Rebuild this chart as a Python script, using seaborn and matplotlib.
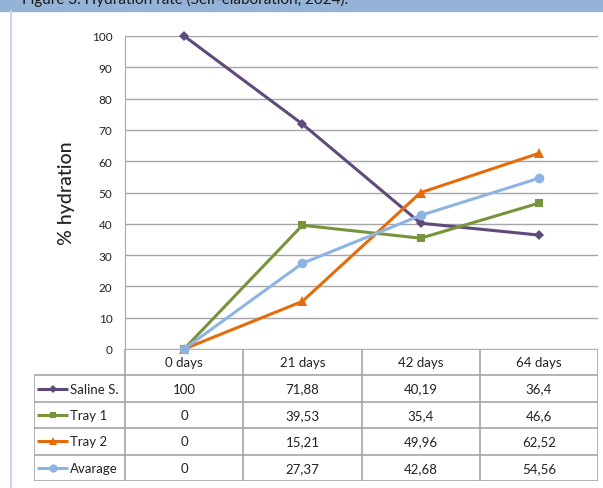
import pandas as pd
import numpy as np
import matplotlib.pyplot as plt
import seaborn as sns
from matplotlib.patches import Rectangle

# data
days = ['0 days', '21 days', '42 days', '64 days']
series = ['Saline S.', 'Tray 1', 'Tray 2', 'Avarage']
saline = [100, 71.88, 40.19, 36.4]
tray1 = [0, 39.53, 35.4, 46.6]
tray2 = [0, 15.21, 49.96, 62.52]
avarage = [0, 27.37, 42.68, 54.56]
yticks = [0, 10, 20, 30, 40, 50, 60, 70, 80, 90, 100]

colors = ['#604A7B', '#77933C', '#E46C0A', '#8EB4E3']
markers = ['D', 's', '^', 'o']
msizes = [5, 6, 7, 7]

df = pd.DataFrame({'day': np.tile(np.arange(len(days)), 4),
                   'value': saline + tray1 + tray2 + avarage,
                   'series': np.repeat(series, len(days))})

sns.set_style('white')
plt.rcParams['font.family'] = ['Lato', 'DejaVu Sans']

W, H = 603, 489
fig = plt.figure(figsize=(W / 100, H / 100), dpi=100)

def px(x0, y0, x1, y1):
    return [x0 / W, 1 - y1 / H, (x1 - x0) / W, (y1 - y0) / H]

# header bar and left frame line
fig.patches.append(Rectangle((0, 1 - 12 / H), 1, 12 / H, transform=fig.transFigure,
                             color='#95B3D7', zorder=0))
fig.text(22 / W, 1 + 1 / H, 'Figure 3. Hydration rate (Self-elaboration, 2024).',
         fontsize=11, color='#1a1a1a', va='center', ha='left')
fig.lines.append(plt.Line2D([11 / W, 11 / W], [0, 1 - 12 / H], transform=fig.transFigure,
                            color='#C6D6EA', lw=1.5))

ax = fig.add_axes(px(125, 37, 598, 350))
for i, s in enumerate(series):
    d = df[df['series'] == s]
    sns.lineplot(data=d, x='day', y='value', ax=ax, color=colors[i], lw=2.2,
                 marker=markers[i], markersize=msizes[i], markeredgewidth=0,
                 legend=False, zorder=3 + i)
ax.set_xlim(-0.5, len(days) - 0.5)
ax.set_ylim(0, 100)
ax.set_yticks(yticks)
ax.set_yticklabels([str(t) for t in yticks], fontsize=8.5, color='#222222')
ax.set_xticks([])
ax.set_xlabel('')
ax.set_ylabel('% hydration', fontsize=14, color='#222222', labelpad=12,
              fontweight='medium')
ax.grid(axis='y', color='#A6A6A6', lw=1)
for sp in ['top', 'right', 'bottom']:
    ax.spines[sp].set_visible(False)
ax.spines['left'].set_color('#A6A6A6')
ax.tick_params(axis='y', length=0, pad=9)
for ln in ax.lines:
    ln.set_clip_on(False)

# data table below the plot
tb = fig.add_axes(px(34, 350, 598, 482))
tb.set_xlim(34, 598)
tb.set_ylim(482, 350)
tb.axis('off')
cw = (598 - 125) / len(days)
rh = (482 - 350) / 5
gc = '#A6A6A6'
edges = [125 + cw * k for k in range(len(days) + 1)]
tb.plot([125, 598], [350, 350], color=gc, lw=1.2)
for k in range(len(days) + 1):
    tb.plot([edges[k], edges[k]], [350, 482], color=gc, lw=1.2)
tb.plot([34, 34], [350 + rh, 482], color=gc, lw=1.2)
for r in range(1, 6):
    tb.plot([34, 598], [350 + rh * r, 350 + rh * r], color=gc, lw=1.2)
for k, d in enumerate(days):
    tb.text(edges[k] + cw / 2, 350 + rh / 2, d, ha='center', va='center',
            fontsize=9.5, color='#222222')
values = [saline, tray1, tray2, avarage]
for r, s in enumerate(series):
    yc = 350 + rh * (r + 1.5)
    tb.plot([37, 68], [yc, yc], color=colors[r], lw=2.2, solid_capstyle='butt')
    tb.plot([52.5], [yc], marker=markers[r], color=colors[r], markersize=msizes[r] - 1,
            markeredgewidth=0)
    tb.text(70, yc, s, ha='left', va='center', fontsize=9.5, color='#222222')
    for k, v in enumerate(values[r]):
        tb.text(edges[k] + cw / 2, yc, ('%g' % v).replace('.', ','), ha='center',
                va='center', fontsize=9.5, color='#222222')

fig.savefig('out.png', dpi=100)
